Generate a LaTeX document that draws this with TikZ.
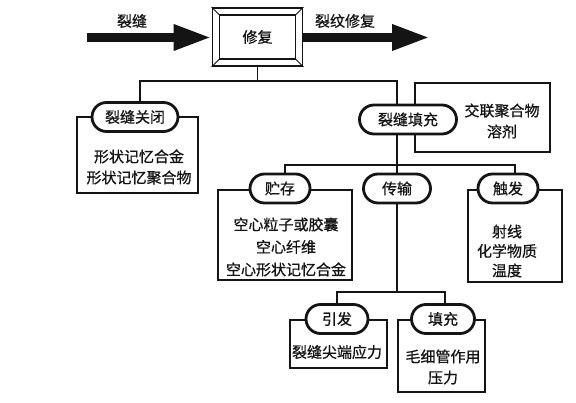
\documentclass[tikz,border=0pt]{standalone}
\usepackage{fontspec}
\setmainfont{Noto Sans CJK SC}[FakeBold=0.8]
\usetikzlibrary{arrows.meta,shapes.misc}
\definecolor{Ink}{RGB}{20,20,20}

\begin{document}
\begin{tikzpicture}[x=1pt,y=-1pt,>=Latex,
    font=\fontsize{15}{21}\selectfont,text=Ink,
    pill/.style={rounded rectangle,draw=Ink,line width=2.8pt,fill=white,
      minimum height=29pt,inner sep=0pt},
    panel/.style={rectangle,draw=Ink,line width=1.3pt,inner sep=0pt},
    wire/.style={draw=Ink,line width=1.4pt},
    bigarrow/.style={draw=Ink,line width=9pt,-{Triangle[length=38pt,width=24pt]}}]
  \useasboundingbox (0,0) rectangle (576,403);
  \node[panel,minimum width=121pt,minimum height=76pt] (guanbiBox) at (137.5,155) {};
  \node[panel,minimum width=135pt,minimum height=69pt] (tianchongBox) at (482.5,117.5) {};
  \node[panel,minimum width=134pt,minimum height=90pt] (zhucunBox) at (285,235) {};
  \node[panel,minimum width=94pt,minimum height=92pt] (chufaBox) at (515,236) {};
  \node[panel,minimum width=97pt,minimum height=48pt] (yinfaBox) at (338.5,344) {};
  \node[panel,minimum width=87pt,minimum height=72pt] (tianchongBBox) at (441.5,356) {};
  \node[draw=Ink,line width=1.8pt,fill=white,minimum width=90pt,minimum height=58pt] (xiufu) at (257.5,37) {};
  \draw[Ink,line width=1.3pt] ([shift={(8,8)}]xiufu.north west) rectangle ([shift={(-8,-8)}]xiufu.south east);
  \foreach \c/\dx/\dy in {north west/8/8,north east/-8/8,south west/8/-8,south east/-8/-8}
    \draw[Ink,line width=1pt] (xiufu.\c) -- ([shift={(\dx,\dy)}]xiufu.\c);
  \node at (xiufu.center) {修复};
  \node[pill,minimum width=86pt] (guanbi) at (135,117) {裂缝关闭};
  \node[pill,minimum width=97pt] (tianchong) at (408,119.5) {裂缝填充};
  \node[pill,minimum width=60pt] (zhucun) at (280,188.5) {贮存};
  \node[pill,minimum width=67pt] (chuanshu) at (397,188.5) {传输};
  \node[pill,minimum width=60pt] (chufa) at (508,188.5) {触发};
  \node[pill,minimum width=62pt] (yinfa) at (337,319) {引发};
  \node[pill,minimum width=63pt] (tianchongB) at (443,319) {填充};
  \node[align=center] (guanbiTxt) at (139,167) {形状记忆合金\\形状记忆聚合物};
  \node[align=center] (tianchongTxt) at (502,121) {交联聚合物\\溶剂};
  \node[align=center,font=\fontsize{15}{22.5}\selectfont] (zhucunTxt) at (286,247) {空心粒子或胶囊\\空心纤维\\空心形状记忆合金};
  \node[align=center,font=\fontsize{15}{19.5}\selectfont] (chufaTxt) at (507,251) {射线\\化学物质\\温度};
  \node (yinfaTxt) at (337,352) {裂缝尖端应力};
  \node[align=center] (tianchongBTxt) at (443,367) {毛细管作用\\压力};
  \coordinate (crackIn) at (87,37.5);
  \coordinate (crackOut) at (430,37.5);
  \draw[bigarrow] (crackIn) -- (xiufu.west |- crackIn);
  \draw[bigarrow] (xiufu.east |- crackOut) -- (crackOut);
  \node (liefeng) at (132,21) {裂缝};
  \node (xiufuOut) at (345,21) {裂纹修复};
  \coordinate (hubA) at (257.5,81);
  \coordinate (hubB) at (397,165);
  \coordinate (hubC) at (397,292);
  \draw[wire] (xiufu.south) -- (hubA);
  \draw[wire] ([xshift=5pt]guanbi.north) |- (hubA) -| ([xshift=-11pt]tianchong.north);
  \draw[wire] ([xshift=-11pt]tianchong.south) -- (chuanshu.north);
  \draw[wire] ([xshift=5pt]zhucun.north) |- (hubB) -| ([xshift=7pt]chufa.north);
  \draw[wire] (chuanshu.south) -- (hubC);
  \draw[wire] (yinfa.north) |- (hubC) -| ([xshift=2pt]tianchongB.north);
\end{tikzpicture}
\end{document}
